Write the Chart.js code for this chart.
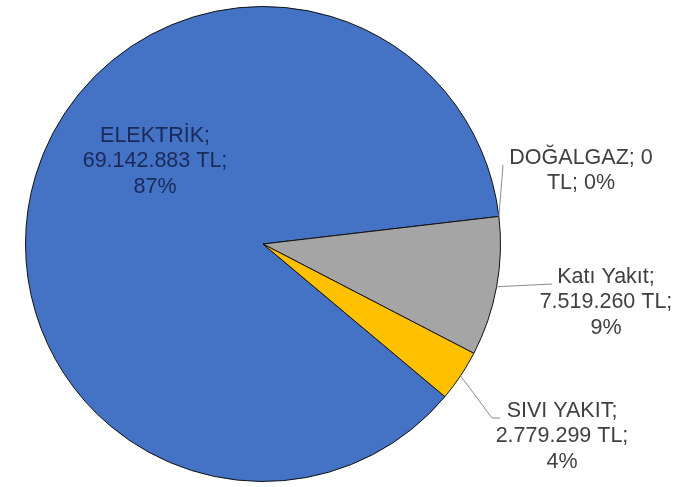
<!DOCTYPE html>
<html>
<head>
<meta charset="utf-8">
<script src="https://cdn.jsdelivr.net/npm/chart.js@4/dist/chart.umd.min.js"></script>
<style>
  html, body { margin: 0; padding: 0; background: #fff; }
  #wrap { width: 686px; height: 487px; }
</style>
</head>
<body>
<div id="wrap"><canvas id="pie"></canvas></div>
<script>
const categories = ["ELEKTRİK", "DOĞALGAZ", "Katı Yakıt", "SIVI YAKIT"];
const amounts = [69142883, 0, 7519260, 2779299];
// percentages as printed on the chart
const percents = [87, 0, 9, 4];
const colors = ["#4472C4", "#ED7D31", "#A5A5A5", "#FFC000"];

const fmtTL = (v) => new Intl.NumberFormat("tr-TR").format(v) + " TL";

// label layout: text lines are built from the data, positions are layout only
const labelLayout = [
  { x: 155, y: 136, color: "#1a2a58", lines: (c, v, p) => [c + ";", fmtTL(v) + ";", p + "%"] },
  { x: 581, y: 158, color: "#404040", lines: (c, v, p) => [c + "; " + fmtTL(v).replace(" TL", ""), "TL; " + p + "%"],
    leader: [[503, 165]] },
  { x: 606, y: 277, color: "#404040", lines: (c, v, p) => [c + ";", fmtTL(v) + ";", p + "%"],
    leader: [[552, 284]] },
  { x: 562, y: 411, color: "#404040", lines: (c, v, p) => [c + ";", fmtTL(v) + ";", p + "%"],
    leader: [[492, 418], [500, 418]] },
];

const labelPlugin = {
  id: "pieLabels",
  afterDraw(chart) {
    const ctx = chart.ctx;
    const meta = chart.getDatasetMeta(0);
    ctx.save();
    meta.data.forEach((arc, i) => {
      const L = labelLayout[i];
      const mid = (arc.startAngle + arc.endAngle) / 2;
      if (L.leader) {
        ctx.strokeStyle = "#8c8c8c";
        ctx.lineWidth = 1;
        ctx.beginPath();
        ctx.moveTo(arc.x + Math.cos(mid) * arc.outerRadius, arc.y + Math.sin(mid) * arc.outerRadius);
        L.leader.forEach(([x, y]) => ctx.lineTo(x, y));
        ctx.stroke();
      }
      ctx.fillStyle = L.color;
      ctx.font = "21.5px 'Liberation Sans', Arial, sans-serif";
      ctx.textAlign = "center";
      ctx.textBaseline = "middle";
      L.lines(categories[i], amounts[i], percents[i]).forEach((t, k) => {
        ctx.fillText(t, L.x, L.y + k * 25.5);
      });
    });
    ctx.restore();
  },
};

new Chart(document.getElementById("pie"), {
  type: "pie",
  data: {
    labels: categories,
    datasets: [
      {
        data: amounts,
        backgroundColor: colors,
        borderColor: "#111",
        borderWidth: 1,
      },
    ],
  },
  options: {
    responsive: true,
    maintainAspectRatio: false,
    animation: false,
    rotation: 130,
    layout: { padding: { left: 25, right: 185, top: 6, bottom: 5 } },
    plugins: { legend: { display: false }, tooltip: { enabled: false } },
  },
  plugins: [labelPlugin],
});
</script>
</body>
</html>
